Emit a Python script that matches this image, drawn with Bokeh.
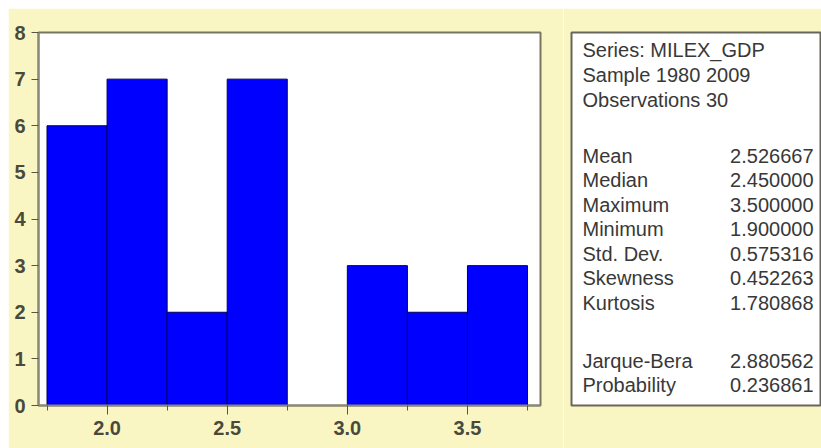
from bokeh.plotting import figure
from bokeh.layouts import row, column
from bokeh.models import Range1d, FixedTicker, SingleIntervalTicker, NumeralTickFormatter, Spacer
from bokeh.core.properties import value
from bokeh.embed import file_html
from bokeh.resources import INLINE

# ---- data ----
bin_edges = [1.75, 2.0, 2.25, 2.5, 2.75, 3.0, 3.25, 3.5, 3.75]
counts = [6, 7, 2, 7, 0, 3, 2, 3]
y_ticks = [0, 1, 2, 3, 4, 5, 6, 7, 8]

header_lines = ["Series: MILEX_GDP", "Sample 1980 2009", "Observations 30"]
stat_names = ["Mean", "Median", "Maximum", "Minimum", "Std. Dev.", "Skewness", "Kurtosis"]
stat_values = ["2.526667", "2.450000", "3.500000", "1.900000", "0.575316", "0.452263", "1.780868"]
test_names = ["Jarque-Bera", "Probability"]
test_values = ["2.880562", "0.236861"]

BG = "#FAF6C3"
FONT = "Liberation Sans"
TXT = "#383838"

# ---- histogram ----
p = figure(width=555, height=440, output_backend="svg", toolbar_location=None,
           x_range=Range1d(1.7146, 3.804), y_range=Range1d(0, 8),
           min_border_left=30, min_border_right=23, min_border_top=22, min_border_bottom=41)
p.background_fill_color = "white"
p.border_fill_color = BG
p.outline_line_color = "#77775f"
p.outline_line_width = 2
p.xgrid.visible = False
p.ygrid.visible = False

p.quad(left=bin_edges[:-1], right=bin_edges[1:], top=counts, bottom=0,
       fill_color="#0000FF", line_color="#00005a", line_width=1)

p.yaxis.ticker = FixedTicker(ticks=y_ticks)
p.xaxis.ticker = SingleIntervalTicker(interval=0.5, num_minor_ticks=2)
p.xaxis.formatter = NumeralTickFormatter(format="0.0")
for ax in (p.xaxis[0], p.yaxis[0]):
    ax.axis_line_color = "#8a8a78"
    ax.axis_line_width = 2
    ax.major_tick_line_color = "#555548"
    ax.minor_tick_line_color = "#555548"
    ax.major_tick_in = 0
    ax.minor_tick_in = 0
    ax.major_label_text_font = FONT
    ax.major_label_text_font_size = "20px"
    ax.major_label_text_font_style = "bold"
    ax.major_label_text_color = "#4a4a3c"
    ax.major_label_standoff = 6
p.yaxis.major_tick_out = 7
p.yaxis.minor_tick_out = 0
p.xaxis.major_tick_out = 9
p.xaxis.minor_tick_out = 5

# ---- statistics box ----
q = figure(width=258, height=440, output_backend="svg", toolbar_location=None,
           x_range=Range1d(0, 249), y_range=Range1d(373, 0),
           min_border_left=8, min_border_right=1, min_border_top=24, min_border_bottom=43)
q.background_fill_color = "white"
q.border_fill_color = BG
q.outline_line_color = "#66665a"
q.outline_line_width = 2
q.axis.visible = False
q.grid.visible = False

left_x, right_x = 11, 242
hy = [17 + 25 * i for i in range(len(header_lines))]
sy = [123 + 24.5 * i for i in range(len(stat_names))]
ty = [328 + 24 * i for i in range(len(test_names))]

common = dict(text_font=value(FONT), text_font_size="20px", text_color=TXT, text_baseline="middle")
q.text(x=[left_x] * len(hy), y=hy, text=header_lines, text_align="left", **common)
q.text(x=[left_x] * len(sy), y=sy, text=stat_names, text_align="left", **common)
q.text(x=[right_x] * len(sy), y=sy, text=stat_values, text_align="right", **common)
q.text(x=[left_x] * len(ty), y=ty, text=test_names, text_align="left", **common)
q.text(x=[right_x] * len(ty), y=ty, text=test_values, text_align="right", **common)

layout = column(Spacer(width=821, height=8),
                row(Spacer(width=8, height=440), p, q))
open("out.html", "w").write(file_html(layout, INLINE))
